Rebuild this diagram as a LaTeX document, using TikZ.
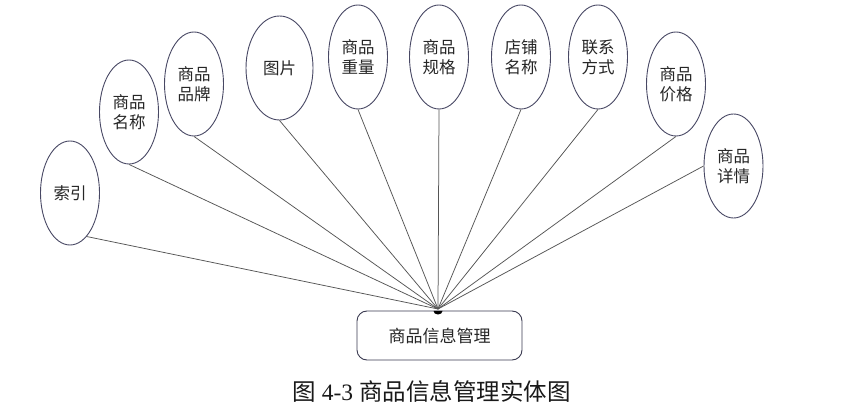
\documentclass[tikz,border=0pt]{standalone}
\usepackage{fontspec}
\setmainfont{Liberation Serif}
\newfontfamily\cjk{Noto Sans CJK SC}
\usetikzlibrary{shapes.geometric}
\definecolor{edgecol}{RGB}{72,72,100}
\definecolor{linecol}{RGB}{85,85,85}
\tikzset{
  attr/.style={ellipse, draw=edgecol, line width=0.9pt, inner sep=0pt,
    minimum width=59pt, minimum height=104pt, align=center,
    font=\cjk\fontsize{16.5}{20}\selectfont, text=black!85},
  entity/.style={rectangle, rounded corners=10pt, draw=edgecol!80!black, line width=0.9pt,
    minimum width=165pt, minimum height=49pt, inner sep=0pt,
    font=\cjk\fontsize{17}{20}\selectfont, text=black!85},
  conn/.style={draw=linecol, line width=0.75pt}
}
\begin{document}
\begin{tikzpicture}[x=1pt,y=-1pt]
\useasboundingbox[fill=white] (0,0) rectangle (848,411);
\node[attr] (suoyin) at (70,193) {索引};
\node[attr] (mingcheng) at (129,112) {商品\\名称};
\node[attr] (pinpai) at (194,84) {商品\\品牌};
\node[attr, minimum width=67pt] (tupian) at (279.5,68) {图片};
\node[attr] (zhongliang) at (358,57) {商品\\重量};
\node[attr] (guige) at (439,57) {商品\\规格};
\node[attr] (dianpu) at (521,57) {店铺\\名称};
\node[attr] (lianxi) at (598,57) {联系\\方式};
\node[attr] (jiage) at (676,84) {商品\\价格};
\node[attr] (xiangqing) at (733.5,166) {商品\\详情};
\node[entity] (goods) at (439.5,335.5) {商品信息管理};
\coordinate (hub) at (438,309);
\foreach \n in {mingcheng,pinpai,tupian,zhongliang,guige,dianpu,lianxi,jiage}
  \draw[conn] (\n.south) -- (hub);
\draw[conn] (suoyin.-69) -- (hub);
\draw[conn] (xiangqing.west) -- (hub);
\fill[black] (hub) ++(-4.5,2) arc (180:0:4.5 and 3.5) -- cycle;
\node[font=\fontsize{23.5}{26}\selectfont, text=black!90] (caption) at (431.5,391)
  {{\cjk 图} 4-3 {\cjk 商品信息管理实体图}};
\end{tikzpicture}
\end{document}
